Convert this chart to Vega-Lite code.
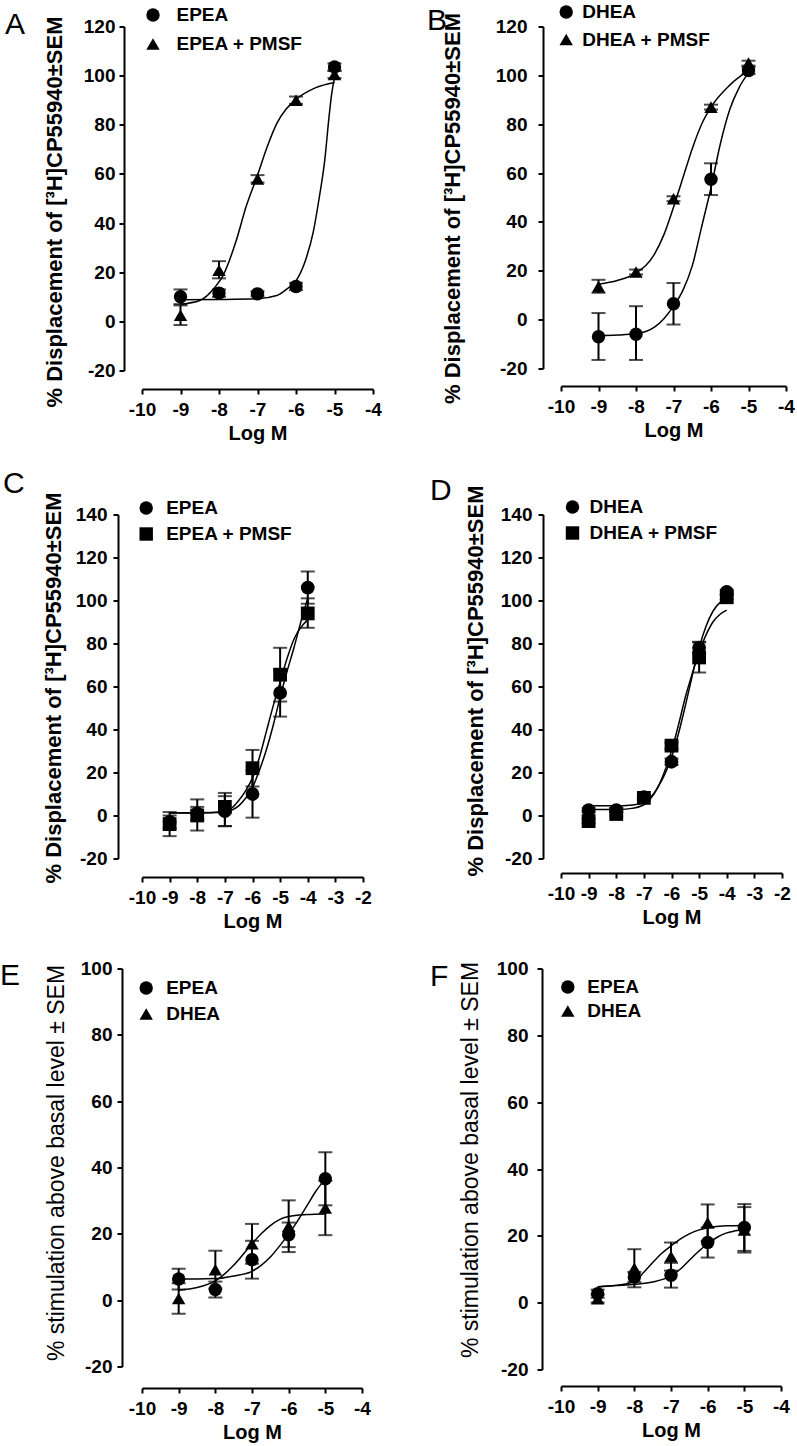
{
  "$schema": "https://vega.github.io/schema/vega-lite/v6.json",
  "background": "white",
  "padding": {"left": 0, "top": 2.5, "right": 0, "bottom": 0},
  "columns": 2,
  "spacing": {"row": 0, "column": 188},
  "bounds": "flush",
  "resolve": {"scale": {"x": "independent", "y": "independent", "shape": "independent"}, "axis": {"x": "independent", "y": "independent"}, "legend": {"shape": "independent"}},
  "datasets": {
    "pts": [
      {"panel":"A","series":"EPEA","x":-9,"y":10,"lo":7,"hi":13},
      {"panel":"A","series":"EPEA","x":-8,"y":11.5,"lo":10,"hi":13},
      {"panel":"A","series":"EPEA","x":-7,"y":11.2,"lo":10.2,"hi":12.2},
      {"panel":"A","series":"EPEA","x":-6,"y":14.2,"lo":12.7,"hi":15.7},
      {"panel":"A","series":"EPEA","x":-5,"y":103.5,"lo":102,"hi":105},
      {"panel":"A","series":"EPEA + PMSF","x":-9,"y":2.5,"lo":-1.5,"hi":6.5},
      {"panel":"A","series":"EPEA + PMSF","x":-8,"y":20.8,"lo":17.5,"hi":24.5},
      {"panel":"A","series":"EPEA + PMSF","x":-7,"y":58,"lo":56.5,"hi":59.5},
      {"panel":"A","series":"EPEA + PMSF","x":-6,"y":90,"lo":88.5,"hi":91.5},
      {"panel":"A","series":"EPEA + PMSF","x":-5,"y":100.5,"lo":99,"hi":102},
      {"panel":"B","series":"DHEA","x":-9,"y":-7,"lo":-16.5,"hi":2.7},
      {"panel":"B","series":"DHEA","x":-8,"y":-6,"lo":-16.5,"hi":5.5},
      {"panel":"B","series":"DHEA","x":-7,"y":6.5,"lo":-2,"hi":15},
      {"panel":"B","series":"DHEA","x":-6,"y":57.5,"lo":51,"hi":64},
      {"panel":"B","series":"DHEA","x":-5,"y":102,"lo":100.5,"hi":103.5},
      {"panel":"B","series":"DHEA + PMSF","x":-9,"y":13.5,"lo":11,"hi":16.3},
      {"panel":"B","series":"DHEA + PMSF","x":-8,"y":19.5,"lo":18.5,"hi":20.5},
      {"panel":"B","series":"DHEA + PMSF","x":-7,"y":49.5,"lo":48.5,"hi":50.5},
      {"panel":"B","series":"DHEA + PMSF","x":-6,"y":87,"lo":86,"hi":88},
      {"panel":"B","series":"DHEA + PMSF","x":-5,"y":105,"lo":104,"hi":106},
      {"panel":"C","series":"EPEA","x":-9,"y":-3,"lo":-6,"hi":0},
      {"panel":"C","series":"EPEA","x":-8,"y":1,"lo":-2,"hi":4},
      {"panel":"C","series":"EPEA","x":-7,"y":2,"lo":-5,"hi":9},
      {"panel":"C","series":"EPEA","x":-6,"y":10,"lo":-1,"hi":21},
      {"panel":"C","series":"EPEA","x":-5,"y":57,"lo":46,"hi":68},
      {"panel":"C","series":"EPEA","x":-4,"y":106,"lo":98.5,"hi":113.5},
      {"panel":"C","series":"EPEA + PMSF","x":-9,"y":-4,"lo":-9.6,"hi":1.6},
      {"panel":"C","series":"EPEA + PMSF","x":-8,"y":0,"lo":-7,"hi":7.5},
      {"panel":"C","series":"EPEA + PMSF","x":-7,"y":4,"lo":-4.9,"hi":10.5},
      {"panel":"C","series":"EPEA + PMSF","x":-6,"y":22,"lo":13.5,"hi":30.5},
      {"panel":"C","series":"EPEA + PMSF","x":-5,"y":65.5,"lo":53,"hi":78},
      {"panel":"C","series":"EPEA + PMSF","x":-4,"y":94,"lo":87.3,"hi":101},
      {"panel":"D","series":"DHEA","x":-9,"y":2.5,"lo":1.5,"hi":3.5},
      {"panel":"D","series":"DHEA","x":-8,"y":2.5,"lo":1.5,"hi":3.5},
      {"panel":"D","series":"DHEA","x":-7,"y":8.5,"lo":7.5,"hi":9.5},
      {"panel":"D","series":"DHEA","x":-6,"y":25,"lo":23.5,"hi":26.5},
      {"panel":"D","series":"DHEA","x":-5,"y":78,"lo":75.5,"hi":80.8},
      {"panel":"D","series":"DHEA","x":-4,"y":104,"lo":103,"hi":105},
      {"panel":"D","series":"DHEA + PMSF","x":-9,"y":-2.6,"lo":-3.6,"hi":-1.6},
      {"panel":"D","series":"DHEA + PMSF","x":-8,"y":0.7,"lo":-0.3,"hi":1.7},
      {"panel":"D","series":"DHEA + PMSF","x":-7,"y":8.2,"lo":7.2,"hi":9.2},
      {"panel":"D","series":"DHEA + PMSF","x":-6,"y":32.5,"lo":31,"hi":34},
      {"panel":"D","series":"DHEA + PMSF","x":-5,"y":73.5,"lo":66.5,"hi":80.5},
      {"panel":"D","series":"DHEA + PMSF","x":-4,"y":101.5,"lo":100.5,"hi":102.5},
      {"panel":"E","series":"EPEA","x":-9,"y":6.4,"lo":3.2,"hi":9.5},
      {"panel":"E","series":"EPEA","x":-8,"y":3.2,"lo":0.8,"hi":5.6},
      {"panel":"E","series":"EPEA","x":-7,"y":12.2,"lo":6.5,"hi":17.9},
      {"panel":"E","series":"EPEA","x":-6,"y":19.7,"lo":16,"hi":23.4},
      {"panel":"E","series":"EPEA","x":-5,"y":36.6,"lo":28.6,"hi":44.6},
      {"panel":"E","series":"DHEA","x":-9,"y":0.5,"lo":-4.1,"hi":5.1},
      {"panel":"E","series":"DHEA","x":-8,"y":9.2,"lo":3.5,"hi":14.9},
      {"panel":"E","series":"DHEA","x":-7,"y":17,"lo":11,"hi":23},
      {"panel":"E","series":"DHEA","x":-6,"y":22.3,"lo":14.5,"hi":30.1},
      {"panel":"E","series":"DHEA","x":-5,"y":27.8,"lo":19.6,"hi":36},
      {"panel":"F","series":"EPEA","x":-9,"y":2.7,"lo":1.5,"hi":3.9},
      {"panel":"F","series":"EPEA","x":-8,"y":7.7,"lo":6.2,"hi":9.2},
      {"panel":"F","series":"EPEA","x":-7,"y":8.2,"lo":4.5,"hi":11.9},
      {"panel":"F","series":"EPEA","x":-6,"y":18,"lo":13.5,"hi":22.5},
      {"panel":"F","series":"EPEA","x":-5,"y":22.5,"lo":15.5,"hi":29.5},
      {"panel":"F","series":"DHEA","x":-9,"y":1.2,"lo":0,"hi":2.4},
      {"panel":"F","series":"DHEA","x":-8,"y":10.3,"lo":4.6,"hi":16},
      {"panel":"F","series":"DHEA","x":-7,"y":13.8,"lo":9.6,"hi":18},
      {"panel":"F","series":"DHEA","x":-6,"y":23.9,"lo":18.4,"hi":29.4},
      {"panel":"F","series":"DHEA","x":-5,"y":21.8,"lo":15,"hi":28.6}
    ],
    "fit": [
      {"panel":"A","series":"EPEA","x":-9,"y":8.8},
      {"panel":"A","series":"EPEA","x":-8,"y":8.9},
      {"panel":"A","series":"EPEA","x":-7,"y":9.2},
      {"panel":"A","series":"EPEA","x":-6.5,"y":10.5},
      {"panel":"A","series":"EPEA","x":-6.25,"y":13},
      {"panel":"A","series":"EPEA","x":-6,"y":16.5},
      {"panel":"A","series":"EPEA","x":-5.75,"y":25},
      {"panel":"A","series":"EPEA","x":-5.55,"y":36.5},
      {"panel":"A","series":"EPEA","x":-5.4,"y":50},
      {"panel":"A","series":"EPEA","x":-5.25,"y":66},
      {"panel":"A","series":"EPEA","x":-5.15,"y":82},
      {"panel":"A","series":"EPEA","x":-5.07,"y":93},
      {"panel":"A","series":"EPEA","x":-5,"y":99},
      {"panel":"A","series":"EPEA + PMSF","x":-9,"y":7},
      {"panel":"A","series":"EPEA + PMSF","x":-8.5,"y":8.5},
      {"panel":"A","series":"EPEA + PMSF","x":-8.1,"y":14},
      {"panel":"A","series":"EPEA + PMSF","x":-7.9,"y":18.5},
      {"panel":"A","series":"EPEA + PMSF","x":-7.55,"y":33},
      {"panel":"A","series":"EPEA + PMSF","x":-7.3,"y":46.5},
      {"panel":"A","series":"EPEA + PMSF","x":-7,"y":59.5},
      {"panel":"A","series":"EPEA + PMSF","x":-6.75,"y":71},
      {"panel":"A","series":"EPEA + PMSF","x":-6.5,"y":80.5},
      {"panel":"A","series":"EPEA + PMSF","x":-6.25,"y":86.5},
      {"panel":"A","series":"EPEA + PMSF","x":-6,"y":90.3},
      {"panel":"A","series":"EPEA + PMSF","x":-5.5,"y":95},
      {"panel":"A","series":"EPEA + PMSF","x":-5,"y":97.2},
      {"panel":"B","series":"DHEA","x":-9,"y":-6.5},
      {"panel":"B","series":"DHEA","x":-8.5,"y":-6.3},
      {"panel":"B","series":"DHEA","x":-8,"y":-5.8},
      {"panel":"B","series":"DHEA","x":-7.5,"y":-3},
      {"panel":"B","series":"DHEA","x":-7.25,"y":0.5},
      {"panel":"B","series":"DHEA","x":-7,"y":5.5},
      {"panel":"B","series":"DHEA","x":-6.75,"y":12},
      {"panel":"B","series":"DHEA","x":-6.5,"y":22},
      {"panel":"B","series":"DHEA","x":-6.25,"y":38},
      {"panel":"B","series":"DHEA","x":-6,"y":54},
      {"panel":"B","series":"DHEA","x":-5.75,"y":72},
      {"panel":"B","series":"DHEA","x":-5.5,"y":86},
      {"panel":"B","series":"DHEA","x":-5.25,"y":95},
      {"panel":"B","series":"DHEA","x":-5,"y":101},
      {"panel":"B","series":"DHEA + PMSF","x":-9,"y":14.5},
      {"panel":"B","series":"DHEA + PMSF","x":-8.5,"y":16},
      {"panel":"B","series":"DHEA + PMSF","x":-8,"y":19},
      {"panel":"B","series":"DHEA + PMSF","x":-7.5,"y":27},
      {"panel":"B","series":"DHEA + PMSF","x":-7.25,"y":35},
      {"panel":"B","series":"DHEA + PMSF","x":-7,"y":46},
      {"panel":"B","series":"DHEA + PMSF","x":-6.75,"y":58},
      {"panel":"B","series":"DHEA + PMSF","x":-6.5,"y":70},
      {"panel":"B","series":"DHEA + PMSF","x":-6.25,"y":80},
      {"panel":"B","series":"DHEA + PMSF","x":-6,"y":87},
      {"panel":"B","series":"DHEA + PMSF","x":-5.5,"y":96},
      {"panel":"B","series":"DHEA + PMSF","x":-5,"y":102},
      {"panel":"C","series":"EPEA","x":-9,"y":1.2},
      {"panel":"C","series":"EPEA","x":-8,"y":1.2},
      {"panel":"C","series":"EPEA","x":-7,"y":1.5},
      {"panel":"C","series":"EPEA","x":-6.75,"y":2.5},
      {"panel":"C","series":"EPEA","x":-6.5,"y":4.5},
      {"panel":"C","series":"EPEA","x":-6.25,"y":8},
      {"panel":"C","series":"EPEA","x":-6,"y":13},
      {"panel":"C","series":"EPEA","x":-5.75,"y":21},
      {"panel":"C","series":"EPEA","x":-5.5,"y":30.5},
      {"panel":"C","series":"EPEA","x":-5.25,"y":42},
      {"panel":"C","series":"EPEA","x":-5,"y":55},
      {"panel":"C","series":"EPEA","x":-4.75,"y":67},
      {"panel":"C","series":"EPEA","x":-4.5,"y":78},
      {"panel":"C","series":"EPEA","x":-4.25,"y":90},
      {"panel":"C","series":"EPEA","x":-4,"y":101},
      {"panel":"C","series":"EPEA + PMSF","x":-9,"y":1.3},
      {"panel":"C","series":"EPEA + PMSF","x":-8,"y":1.3},
      {"panel":"C","series":"EPEA + PMSF","x":-7,"y":1.8},
      {"panel":"C","series":"EPEA + PMSF","x":-6.75,"y":3.5},
      {"panel":"C","series":"EPEA + PMSF","x":-6.5,"y":7},
      {"panel":"C","series":"EPEA + PMSF","x":-6.25,"y":11.5},
      {"panel":"C","series":"EPEA + PMSF","x":-6,"y":17.5},
      {"panel":"C","series":"EPEA + PMSF","x":-5.75,"y":27},
      {"panel":"C","series":"EPEA + PMSF","x":-5.5,"y":39},
      {"panel":"C","series":"EPEA + PMSF","x":-5.25,"y":51},
      {"panel":"C","series":"EPEA + PMSF","x":-5,"y":62},
      {"panel":"C","series":"EPEA + PMSF","x":-4.75,"y":73},
      {"panel":"C","series":"EPEA + PMSF","x":-4.5,"y":82},
      {"panel":"C","series":"EPEA + PMSF","x":-4.25,"y":87.5},
      {"panel":"C","series":"EPEA + PMSF","x":-4,"y":91},
      {"panel":"D","series":"DHEA","x":-9,"y":4.5},
      {"panel":"D","series":"DHEA","x":-8,"y":4.5},
      {"panel":"D","series":"DHEA","x":-7.5,"y":4.8},
      {"panel":"D","series":"DHEA","x":-7,"y":6},
      {"panel":"D","series":"DHEA","x":-6.75,"y":8.5},
      {"panel":"D","series":"DHEA","x":-6.5,"y":13},
      {"panel":"D","series":"DHEA","x":-6.25,"y":19},
      {"panel":"D","series":"DHEA","x":-6,"y":27},
      {"panel":"D","series":"DHEA","x":-5.75,"y":38},
      {"panel":"D","series":"DHEA","x":-5.5,"y":51},
      {"panel":"D","series":"DHEA","x":-5.25,"y":65},
      {"panel":"D","series":"DHEA","x":-5,"y":78},
      {"panel":"D","series":"DHEA","x":-4.75,"y":88},
      {"panel":"D","series":"DHEA","x":-4.5,"y":95},
      {"panel":"D","series":"DHEA","x":-4.25,"y":99},
      {"panel":"D","series":"DHEA","x":-4,"y":101},
      {"panel":"D","series":"DHEA + PMSF","x":-9,"y":2.8},
      {"panel":"D","series":"DHEA + PMSF","x":-8,"y":2.8},
      {"panel":"D","series":"DHEA + PMSF","x":-7.5,"y":3.2},
      {"panel":"D","series":"DHEA + PMSF","x":-7,"y":5},
      {"panel":"D","series":"DHEA + PMSF","x":-6.75,"y":8},
      {"panel":"D","series":"DHEA + PMSF","x":-6.5,"y":13},
      {"panel":"D","series":"DHEA + PMSF","x":-6.25,"y":20.5},
      {"panel":"D","series":"DHEA + PMSF","x":-6,"y":30},
      {"panel":"D","series":"DHEA + PMSF","x":-5.75,"y":42},
      {"panel":"D","series":"DHEA + PMSF","x":-5.5,"y":55},
      {"panel":"D","series":"DHEA + PMSF","x":-5.25,"y":66},
      {"panel":"D","series":"DHEA + PMSF","x":-5,"y":76},
      {"panel":"D","series":"DHEA + PMSF","x":-4.75,"y":84},
      {"panel":"D","series":"DHEA + PMSF","x":-4.5,"y":90},
      {"panel":"D","series":"DHEA + PMSF","x":-4.25,"y":93.5},
      {"panel":"D","series":"DHEA + PMSF","x":-4,"y":95.5},
      {"panel":"E","series":"EPEA","x":-9,"y":6.4},
      {"panel":"E","series":"EPEA","x":-8.5,"y":6.4},
      {"panel":"E","series":"EPEA","x":-8,"y":6.5},
      {"panel":"E","series":"EPEA","x":-7.5,"y":7.3},
      {"panel":"E","series":"EPEA","x":-7,"y":8.7},
      {"panel":"E","series":"EPEA","x":-6.75,"y":10.5},
      {"panel":"E","series":"EPEA","x":-6.5,"y":13},
      {"panel":"E","series":"EPEA","x":-6.25,"y":16.3},
      {"panel":"E","series":"EPEA","x":-6,"y":20},
      {"panel":"E","series":"EPEA","x":-5.75,"y":24},
      {"panel":"E","series":"EPEA","x":-5.5,"y":28.5},
      {"panel":"E","series":"EPEA","x":-5.25,"y":33},
      {"panel":"E","series":"EPEA","x":-5,"y":36.5},
      {"panel":"E","series":"DHEA","x":-9,"y":3},
      {"panel":"E","series":"DHEA","x":-8.5,"y":3.8},
      {"panel":"E","series":"DHEA","x":-8,"y":5.8},
      {"panel":"E","series":"DHEA","x":-7.5,"y":10.5},
      {"panel":"E","series":"DHEA","x":-7,"y":17},
      {"panel":"E","series":"DHEA","x":-6.75,"y":20},
      {"panel":"E","series":"DHEA","x":-6.5,"y":22.5},
      {"panel":"E","series":"DHEA","x":-6.25,"y":24.3},
      {"panel":"E","series":"DHEA","x":-6,"y":25.2},
      {"panel":"E","series":"DHEA","x":-5.5,"y":25.8},
      {"panel":"E","series":"DHEA","x":-5,"y":26},
      {"panel":"F","series":"EPEA","x":-9,"y":4.7},
      {"panel":"F","series":"EPEA","x":-8.5,"y":5.1},
      {"panel":"F","series":"EPEA","x":-8,"y":5.5},
      {"panel":"F","series":"EPEA","x":-7.5,"y":6.2},
      {"panel":"F","series":"EPEA","x":-7,"y":8},
      {"panel":"F","series":"EPEA","x":-6.75,"y":10},
      {"panel":"F","series":"EPEA","x":-6.5,"y":12.7},
      {"panel":"F","series":"EPEA","x":-6.25,"y":15.3},
      {"panel":"F","series":"EPEA","x":-6,"y":17.7},
      {"panel":"F","series":"EPEA","x":-5.75,"y":19.5},
      {"panel":"F","series":"EPEA","x":-5.5,"y":20.8},
      {"panel":"F","series":"EPEA","x":-5.25,"y":21.5},
      {"panel":"F","series":"EPEA","x":-5,"y":22},
      {"panel":"F","series":"DHEA","x":-9,"y":4.8},
      {"panel":"F","series":"DHEA","x":-8.5,"y":5.2},
      {"panel":"F","series":"DHEA","x":-8,"y":6.3},
      {"panel":"F","series":"DHEA","x":-7.75,"y":9},
      {"panel":"F","series":"DHEA","x":-7.5,"y":12},
      {"panel":"F","series":"DHEA","x":-7.25,"y":14.8},
      {"panel":"F","series":"DHEA","x":-7,"y":17},
      {"panel":"F","series":"DHEA","x":-6.75,"y":19},
      {"panel":"F","series":"DHEA","x":-6.5,"y":20.6},
      {"panel":"F","series":"DHEA","x":-6.25,"y":21.7},
      {"panel":"F","series":"DHEA","x":-6,"y":22.4},
      {"panel":"F","series":"DHEA","x":-5.5,"y":23},
      {"panel":"F","series":"DHEA","x":-5,"y":23.1}
    ]
  },
  "concat": [
    {
      "width": 231, "height": 344,
      "title": {"text": "A", "anchor": "start", "frame": "group", "dx": -137, "dy": 58, "offset": 0, "baseline": "alphabetic"},
      "encoding": {"x": {"field": "x", "type": "quantitative", "scale": {"domain": [-10, -4], "nice": false, "zero": false}, "axis": {"values": [-10, -9, -8, -7, -6, -5, -4], "title": "Log M", "offset": 18.5}}},
      "layer": [
        {"data": {"name": "fit"}, "transform": [{"filter": "datum.panel === 'A'"}], "mark": {"type": "line", "interpolate": "monotone", "color": "black", "strokeWidth": 1.5}, "encoding": {"y": {"field": "y", "type": "quantitative", "scale": {"domain": [-20, 120], "nice": false, "zero": false}}, "detail": {"field": "series"}}},
        {"data": {"name": "pts"}, "transform": [{"filter": "datum.panel === 'A'"}], "mark": {"type": "rule", "color": "black", "strokeWidth": 2}, "encoding": {"y": {"field": "lo", "type": "quantitative", "scale": {"domain": [-20, 120], "nice": false, "zero": false}}, "y2": {"field": "hi"}}},
        {"data": {"name": "pts"}, "transform": [{"filter": "datum.panel === 'A'"}], "mark": {"type": "tick", "orient": "horizontal", "color": "black", "size": 14, "thickness": 2}, "encoding": {"y": {"field": "lo", "type": "quantitative", "scale": {"domain": [-20, 120], "nice": false, "zero": false}}}},
        {"data": {"name": "pts"}, "transform": [{"filter": "datum.panel === 'A'"}], "mark": {"type": "tick", "orient": "horizontal", "color": "black", "size": 14, "thickness": 2}, "encoding": {"y": {"field": "hi", "type": "quantitative", "scale": {"domain": [-20, 120], "nice": false, "zero": false}}}},
        {"data": {"name": "pts"}, "transform": [{"filter": "datum.panel === 'A'"}], "mark": {"type": "point", "filled": true, "opacity": 1, "color": "black", "size": 180},
         "encoding": {
           "y": {"field": "y", "type": "quantitative", "scale": {"domain": [-20, 120], "nice": false, "zero": false}, "axis": {"values": [-20, 0, 20, 40, 60, 80, 100, 120], "title": "% Displacement of [³H]CP55940±SEM", "offset": 18, "labelPadding": 4, "titlePadding": 17, "titleY": 185, "titleFontWeight": "bold", "titleFontSize": 22}},
           "shape": {"field": "series", "type": "nominal", "scale": {"domain": ["EPEA", "EPEA + PMSF"], "range": ["circle", "triangle-up"]}, "legend": {"orient": "none", "legendX": 1.5, "legendY": -21, "labelOffset": 14, "rowPadding": 9, "title": null}}
         }}
      ]
    },
    {
      "width": 225, "height": 342,
      "title": {"text": "B", "anchor": "start", "frame": "group", "dx": -134, "dy": 57, "offset": 0, "baseline": "alphabetic"},
      "encoding": {"x": {"field": "x", "type": "quantitative", "scale": {"domain": [-10, -4], "nice": false, "zero": false}, "axis": {"values": [-10, -9, -8, -7, -6, -5, -4], "title": "Log M", "offset": 17.5}}},
      "layer": [
        {"data": {"name": "fit"}, "transform": [{"filter": "datum.panel === 'B'"}], "mark": {"type": "line", "interpolate": "monotone", "color": "black", "strokeWidth": 1.5}, "encoding": {"y": {"field": "y", "type": "quantitative", "scale": {"domain": [-20, 120], "nice": false, "zero": false}}, "detail": {"field": "series"}}},
        {"data": {"name": "pts"}, "transform": [{"filter": "datum.panel === 'B'"}], "mark": {"type": "rule", "color": "black", "strokeWidth": 2}, "encoding": {"y": {"field": "lo", "type": "quantitative", "scale": {"domain": [-20, 120], "nice": false, "zero": false}}, "y2": {"field": "hi"}}},
        {"data": {"name": "pts"}, "transform": [{"filter": "datum.panel === 'B'"}], "mark": {"type": "tick", "orient": "horizontal", "color": "black", "size": 14, "thickness": 2}, "encoding": {"y": {"field": "lo", "type": "quantitative", "scale": {"domain": [-20, 120], "nice": false, "zero": false}}}},
        {"data": {"name": "pts"}, "transform": [{"filter": "datum.panel === 'B'"}], "mark": {"type": "tick", "orient": "horizontal", "color": "black", "size": 14, "thickness": 2}, "encoding": {"y": {"field": "hi", "type": "quantitative", "scale": {"domain": [-20, 120], "nice": false, "zero": false}}}},
        {"data": {"name": "pts"}, "transform": [{"filter": "datum.panel === 'B'"}], "mark": {"type": "point", "filled": true, "opacity": 1, "color": "black", "size": 180},
         "encoding": {
           "y": {"field": "y", "type": "quantitative", "scale": {"domain": [-20, 120], "nice": false, "zero": false}, "axis": {"values": [-20, 0, 20, 40, 60, 80, 100, 120], "title": "% Displacement of [³H]CP55940±SEM", "offset": 18, "labelPadding": 11, "titlePadding": 31, "titleY": 181.5, "titleFontWeight": "bold", "titleFontSize": 22}},
           "shape": {"field": "series", "type": "nominal", "scale": {"domain": ["DHEA", "DHEA + PMSF"], "range": ["circle", "triangle-up"]}, "legend": {"orient": "none", "legendX": -4.3, "legendY": -24, "labelOffset": 6.5, "rowPadding": 7.5, "title": null}}
         }}
      ]
    },
    {"width": 1, "height": 144, "data": {"values": []}, "mark": "point"},
    {"width": 1, "height": 144, "data": {"values": []}, "mark": "point"},
    {
      "width": 221, "height": 344,
      "title": {"text": "C", "anchor": "start", "frame": "group", "dx": -139, "dy": 31.5, "offset": 0, "baseline": "alphabetic"},
      "encoding": {"x": {"field": "x", "type": "quantitative", "scale": {"domain": [-10, -2], "nice": false, "zero": false}, "axis": {"values": [-10, -9, -8, -7, -6, -5, -4, -3, -2], "title": "Log M", "offset": 18.5}}},
      "layer": [
        {"data": {"name": "fit"}, "transform": [{"filter": "datum.panel === 'C'"}], "mark": {"type": "line", "interpolate": "monotone", "color": "black", "strokeWidth": 1.5}, "encoding": {"y": {"field": "y", "type": "quantitative", "scale": {"domain": [-20, 140], "nice": false, "zero": false}}, "detail": {"field": "series"}}},
        {"data": {"name": "pts"}, "transform": [{"filter": "datum.panel === 'C'"}], "mark": {"type": "rule", "color": "black", "strokeWidth": 2}, "encoding": {"y": {"field": "lo", "type": "quantitative", "scale": {"domain": [-20, 140], "nice": false, "zero": false}}, "y2": {"field": "hi"}}},
        {"data": {"name": "pts"}, "transform": [{"filter": "datum.panel === 'C'"}], "mark": {"type": "tick", "orient": "horizontal", "color": "black", "size": 14, "thickness": 2}, "encoding": {"y": {"field": "lo", "type": "quantitative", "scale": {"domain": [-20, 140], "nice": false, "zero": false}}}},
        {"data": {"name": "pts"}, "transform": [{"filter": "datum.panel === 'C'"}], "mark": {"type": "tick", "orient": "horizontal", "color": "black", "size": 14, "thickness": 2}, "encoding": {"y": {"field": "hi", "type": "quantitative", "scale": {"domain": [-20, 140], "nice": false, "zero": false}}}},
        {"data": {"name": "pts"}, "transform": [{"filter": "datum.panel === 'C'"}], "mark": {"type": "point", "filled": true, "opacity": 1, "color": "black", "size": 190},
         "encoding": {
           "y": {"field": "y", "type": "quantitative", "scale": {"domain": [-20, 140], "nice": false, "zero": false}, "axis": {"values": [-20, 0, 20, 40, 60, 80, 100, 120, 140], "title": "% Displacement of [³H]CP55940±SEM", "offset": 24, "labelPadding": 6, "titlePadding": 10, "titleY": 173, "titleFontWeight": "bold", "titleFontSize": 22}},
           "shape": {"field": "series", "type": "nominal", "scale": {"domain": ["EPEA", "EPEA + PMSF"], "range": ["circle", "square"]}, "legend": {"orient": "none", "legendX": -5.3, "legendY": -16, "labelOffset": 10.5, "rowPadding": 6, "title": null}}
         }}
      ]
    },
    {
      "width": 221, "height": 344,
      "title": {"text": "D", "anchor": "start", "frame": "group", "dx": -131, "dy": 45.5, "offset": 0, "baseline": "alphabetic"},
      "encoding": {"x": {"field": "x", "type": "quantitative", "scale": {"domain": [-10, -2], "nice": false, "zero": false}, "axis": {"values": [-10, -9, -8, -7, -6, -5, -4, -3, -2], "title": "Log M", "offset": 14.5}}},
      "layer": [
        {"data": {"name": "fit"}, "transform": [{"filter": "datum.panel === 'D'"}], "mark": {"type": "line", "interpolate": "monotone", "color": "black", "strokeWidth": 1.5}, "encoding": {"y": {"field": "y", "type": "quantitative", "scale": {"domain": [-20, 140], "nice": false, "zero": false}}, "detail": {"field": "series"}}},
        {"data": {"name": "pts"}, "transform": [{"filter": "datum.panel === 'D'"}], "mark": {"type": "rule", "color": "black", "strokeWidth": 2}, "encoding": {"y": {"field": "lo", "type": "quantitative", "scale": {"domain": [-20, 140], "nice": false, "zero": false}}, "y2": {"field": "hi"}}},
        {"data": {"name": "pts"}, "transform": [{"filter": "datum.panel === 'D'"}], "mark": {"type": "tick", "orient": "horizontal", "color": "black", "size": 14, "thickness": 2}, "encoding": {"y": {"field": "lo", "type": "quantitative", "scale": {"domain": [-20, 140], "nice": false, "zero": false}}}},
        {"data": {"name": "pts"}, "transform": [{"filter": "datum.panel === 'D'"}], "mark": {"type": "tick", "orient": "horizontal", "color": "black", "size": 14, "thickness": 2}, "encoding": {"y": {"field": "hi", "type": "quantitative", "scale": {"domain": [-20, 140], "nice": false, "zero": false}}}},
        {"data": {"name": "pts"}, "transform": [{"filter": "datum.panel === 'D'"}], "mark": {"type": "point", "filled": true, "opacity": 1, "color": "black", "size": 190},
         "encoding": {
           "y": {"field": "y", "type": "quantitative", "scale": {"domain": [-20, 140], "nice": false, "zero": false}, "axis": {"values": [-20, 0, 20, 40, 60, 80, 100, 120, 140], "title": "% Displacement of [³H]CP55940±SEM", "offset": 18, "labelPadding": 6, "titlePadding": 13, "titleY": 166, "titleFontWeight": "bold", "titleFontSize": 22}},
           "shape": {"field": "series", "type": "nominal", "scale": {"domain": ["DHEA", "DHEA + PMSF"], "range": ["circle", "square"]}, "legend": {"orient": "none", "legendX": 2, "legendY": -17, "labelOffset": 7.5, "rowPadding": 6, "title": null}}
         }}
      ]
    },
    {"width": 1, "height": 110, "data": {"values": []}, "mark": "point"},
    {"width": 1, "height": 110, "data": {"values": []}, "mark": "point"},
    {
      "width": 220, "height": 398,
      "title": {"text": "E", "anchor": "start", "frame": "group", "dx": -142, "dy": 55.5, "offset": 0, "baseline": "alphabetic"},
      "encoding": {"x": {"field": "x", "type": "quantitative", "scale": {"domain": [-10, -4], "nice": false, "zero": false}, "axis": {"values": [-10, -9, -8, -7, -6, -5, -4], "title": "Log M", "offset": 21.5}}},
      "layer": [
        {"data": {"name": "fit"}, "transform": [{"filter": "datum.panel === 'E'"}], "mark": {"type": "line", "interpolate": "monotone", "color": "black", "strokeWidth": 1.5}, "encoding": {"y": {"field": "y", "type": "quantitative", "scale": {"domain": [-20, 100], "nice": false, "zero": false}}, "detail": {"field": "series"}}},
        {"data": {"name": "pts"}, "transform": [{"filter": "datum.panel === 'E'"}], "mark": {"type": "rule", "color": "black", "strokeWidth": 2}, "encoding": {"y": {"field": "lo", "type": "quantitative", "scale": {"domain": [-20, 100], "nice": false, "zero": false}}, "y2": {"field": "hi"}}},
        {"data": {"name": "pts"}, "transform": [{"filter": "datum.panel === 'E'"}], "mark": {"type": "tick", "orient": "horizontal", "color": "black", "size": 14, "thickness": 2}, "encoding": {"y": {"field": "lo", "type": "quantitative", "scale": {"domain": [-20, 100], "nice": false, "zero": false}}}},
        {"data": {"name": "pts"}, "transform": [{"filter": "datum.panel === 'E'"}], "mark": {"type": "tick", "orient": "horizontal", "color": "black", "size": 14, "thickness": 2}, "encoding": {"y": {"field": "hi", "type": "quantitative", "scale": {"domain": [-20, 100], "nice": false, "zero": false}}}},
        {"data": {"name": "pts"}, "transform": [{"filter": "datum.panel === 'E'"}], "mark": {"type": "point", "filled": true, "opacity": 1, "color": "black", "size": 180},
         "encoding": {
           "y": {"field": "y", "type": "quantitative", "scale": {"domain": [-20, 100], "nice": false, "zero": false}, "axis": {"values": [-20, 0, 20, 40, 60, 80, 100], "title": "% stimulation above basal level ± SEM", "offset": 20, "labelPadding": 5, "titlePadding": 12, "titleY": 194, "titleFontWeight": "normal", "titleFontSize": 23}},
           "shape": {"field": "series", "type": "nominal", "scale": {"domain": ["EPEA", "DHEA"], "range": ["circle", "triangle-up"]}, "legend": {"orient": "none", "legendX": -5.3, "legendY": 10, "labelOffset": 10.5, "rowPadding": 6, "title": null}}
         }}
      ]
    },
    {
      "width": 220, "height": 401,
      "title": {"text": "F", "anchor": "start", "frame": "group", "dx": -131, "dy": 56.5, "offset": 0, "baseline": "alphabetic"},
      "encoding": {"x": {"field": "x", "type": "quantitative", "scale": {"domain": [-10, -4], "nice": false, "zero": false}, "axis": {"values": [-10, -9, -8, -7, -6, -5, -4], "title": "Log M", "offset": 16.5}}},
      "layer": [
        {"data": {"name": "fit"}, "transform": [{"filter": "datum.panel === 'F'"}], "mark": {"type": "line", "interpolate": "monotone", "color": "black", "strokeWidth": 1.5}, "encoding": {"y": {"field": "y", "type": "quantitative", "scale": {"domain": [-20, 100], "nice": false, "zero": false}}, "detail": {"field": "series"}}},
        {"data": {"name": "pts"}, "transform": [{"filter": "datum.panel === 'F'"}], "mark": {"type": "rule", "color": "black", "strokeWidth": 2}, "encoding": {"y": {"field": "lo", "type": "quantitative", "scale": {"domain": [-20, 100], "nice": false, "zero": false}}, "y2": {"field": "hi"}}},
        {"data": {"name": "pts"}, "transform": [{"filter": "datum.panel === 'F'"}], "mark": {"type": "tick", "orient": "horizontal", "color": "black", "size": 14, "thickness": 2}, "encoding": {"y": {"field": "lo", "type": "quantitative", "scale": {"domain": [-20, 100], "nice": false, "zero": false}}}},
        {"data": {"name": "pts"}, "transform": [{"filter": "datum.panel === 'F'"}], "mark": {"type": "tick", "orient": "horizontal", "color": "black", "size": 14, "thickness": 2}, "encoding": {"y": {"field": "hi", "type": "quantitative", "scale": {"domain": [-20, 100], "nice": false, "zero": false}}}},
        {"data": {"name": "pts"}, "transform": [{"filter": "datum.panel === 'F'"}], "mark": {"type": "point", "filled": true, "opacity": 1, "color": "black", "size": 180},
         "encoding": {
           "y": {"field": "y", "type": "quantitative", "scale": {"domain": [-20, 100], "nice": false, "zero": false}, "axis": {"values": [-20, 0, 20, 40, 60, 80, 100], "title": "% stimulation above basal level ± SEM", "offset": 19, "labelPadding": 9, "titlePadding": 14, "titleY": 191, "titleFontWeight": "normal", "titleFontSize": 23}},
           "shape": {"field": "series", "type": "nominal", "scale": {"domain": ["EPEA", "DHEA"], "range": ["circle", "triangle-up"]}, "legend": {"orient": "none", "legendX": -2.7, "legendY": 9, "labelOffset": 10, "rowPadding": 4, "title": null}}
         }}
      ]
    }
  ],
  "config": {
    "locale": {"number": {"decimal": ".", "thousands": ",", "grouping": [3], "currency": ["$", ""], "minus": "-"}},
    "view": {"stroke": null},
    "font": "Liberation Sans",
    "title": {"font": "Liberation Sans", "fontSize": 30, "fontWeight": "normal", "color": "black"},
    "axis": {"grid": false, "domainColor": "black", "domainWidth": 2, "tickColor": "black", "tickWidth": 2, "tickSize": 5, "labelColor": "black", "labelFont": "Liberation Sans", "labelFontWeight": "bold", "labelFontSize": 19, "titleColor": "black", "titleFont": "Liberation Sans", "titleFontWeight": "bold", "titleFontSize": 20, "labelOverlap": false, "labelFlush": false, "labelBound": false},
    "axisX": {"labelPadding": 6, "titlePadding": 4},
    "legend": {"padding": 0, "labelFont": "Liberation Sans", "labelFontWeight": "bold", "labelFontSize": 19, "labelColor": "black", "symbolSize": 180, "symbolFillColor": "black", "symbolStrokeColor": "black", "symbolStrokeWidth": 0, "symbolOpacity": 1}
  }
}
